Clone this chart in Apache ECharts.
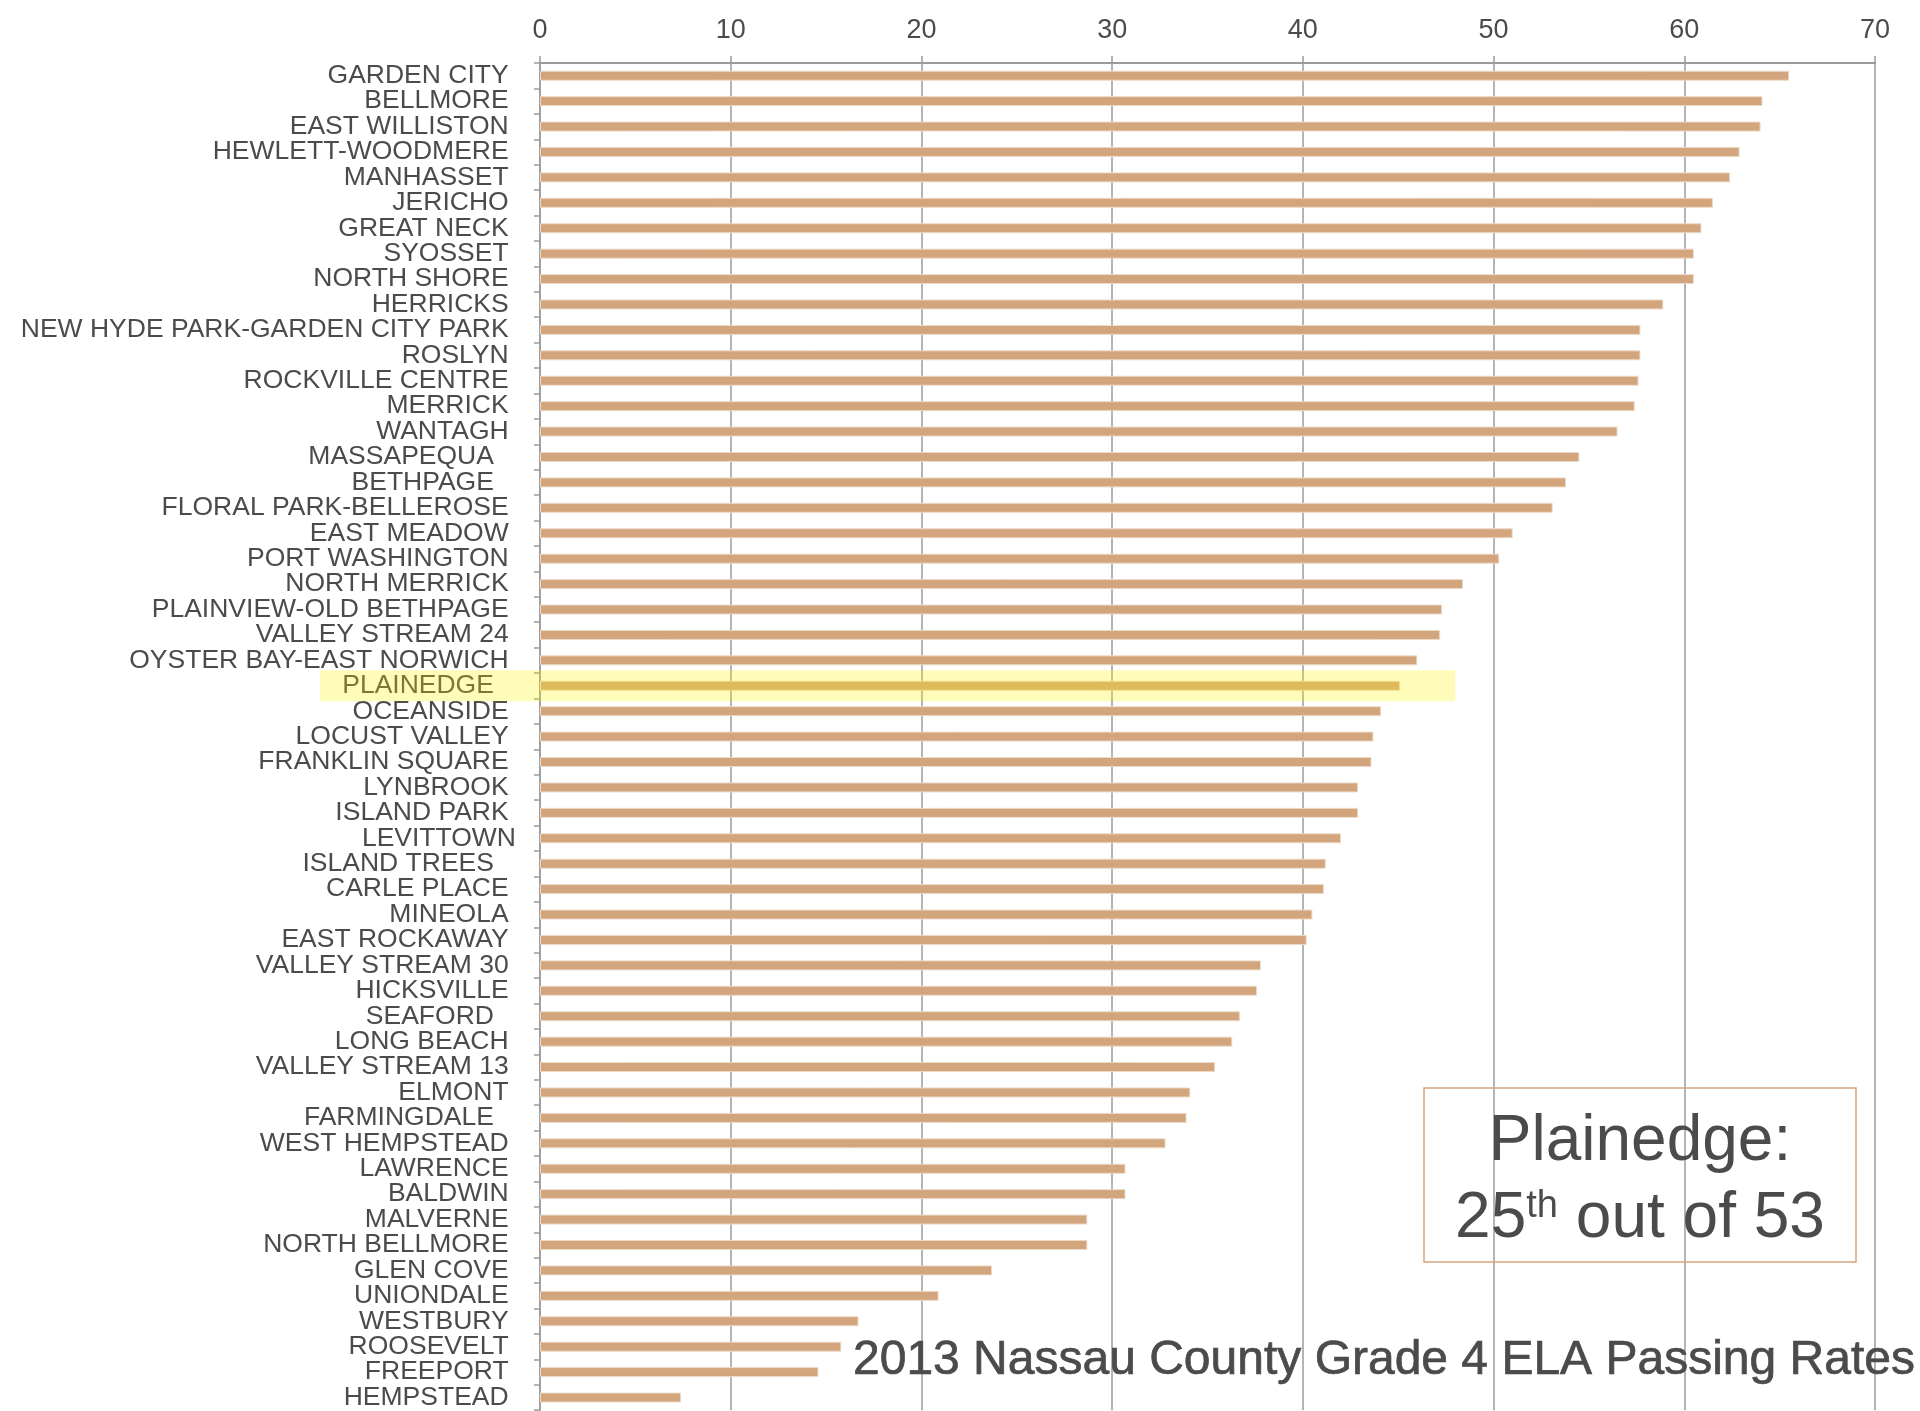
<!DOCTYPE html>
<html>
<head>
<meta charset="utf-8">
<title>2013 Nassau County Grade 4 ELA Passing Rates</title>
<script src="https://cdn.jsdelivr.net/npm/echarts@6/dist/echarts.min.js"></script>
<style>
  html, body { margin: 0; padding: 0; background: #ffffff; }
  #chart { width: 1920px; height: 1411px; }
</style>
</head>
<body>
<div id="chart"></div>
<script>
// School districts, ranked from highest to lowest passing rate
const districts = [
  'GARDEN CITY', 'BELLMORE', 'EAST WILLISTON', 'HEWLETT-WOODMERE', 'MANHASSET',
  'JERICHO', 'GREAT NECK', 'SYOSSET', 'NORTH SHORE', 'HERRICKS',
  'NEW HYDE PARK-GARDEN CITY PARK', 'ROSLYN', 'ROCKVILLE CENTRE', 'MERRICK', 'WANTAGH',
  'MASSAPEQUA', 'BETHPAGE', 'FLORAL PARK-BELLEROSE', 'EAST MEADOW', 'PORT WASHINGTON',
  'NORTH MERRICK', 'PLAINVIEW-OLD BETHPAGE', 'VALLEY STREAM 24', 'OYSTER BAY-EAST NORWICH', 'PLAINEDGE',
  'OCEANSIDE', 'LOCUST VALLEY', 'FRANKLIN SQUARE', 'LYNBROOK', 'ISLAND PARK',
  'LEVITTOWN', 'ISLAND TREES', 'CARLE PLACE', 'MINEOLA', 'EAST ROCKAWAY',
  'VALLEY STREAM 30', 'HICKSVILLE', 'SEAFORD', 'LONG BEACH', 'VALLEY STREAM 13',
  'ELMONT', 'FARMINGDALE', 'WEST HEMPSTEAD', 'LAWRENCE', 'BALDWIN',
  'MALVERNE', 'NORTH BELLMORE', 'GLEN COVE', 'UNIONDALE', 'WESTBURY',
  'ROOSEVELT', 'FREEPORT', 'HEMPSTEAD'
];

// Percent of students passing, same order as districts
const passRates = [
  65.5, 64.1, 64.0, 62.9, 62.4,
  61.5, 60.9, 60.5, 60.5, 58.9,
  57.7, 57.7, 57.6, 57.4, 56.5,
  54.5, 53.8, 53.1, 51.0, 50.3,
  48.4, 47.3, 47.2, 46.0, 45.1,
  44.1, 43.7, 43.6, 42.9, 42.9,
  42.0, 41.2, 41.1, 40.5, 40.2,
  37.8, 37.6, 36.7, 36.3, 35.4,
  34.1, 33.9, 32.8, 30.7, 30.7,
  28.7, 28.7, 23.7, 20.9, 16.7,
  15.8, 14.6, 7.4
];

// Value axis ticks
const rateAxisMin = 0;
const rateAxisMax = 70;
const rateAxisStep = 10;

// District called out in the chart
const featuredDistrict = 'PLAINEDGE';
const featuredName = 'Plainedge';
const highlightReach = 48;

const chartTitle = '2013 Nassau County Grade 4 ELA Passing Rates';

const FONT = '"Liberation Sans", Arial, Helvetica, sans-serif';
const INK = '#4b4b4b';
const TAN = '#d3a57c';
const RULE = '#9b9b9b';

// labels set slightly further from the axis
const indented = new Set(['MASSAPEQUA', 'BETHPAGE', 'PLAINEDGE', 'ISLAND TREES', 'SEAFORD', 'FARMINGDALE']);

function ordinalSuffix(n) {
  const t = n % 100;
  if (t >= 11 && t <= 13) return 'th';
  return ({ 1: 'st', 2: 'nd', 3: 'rd' })[n % 10] || 'th';
}

const chart = echarts.init(document.getElementById('chart'), null, { renderer: 'canvas' });

chart.setOption({
  animation: false,
  backgroundColor: '#ffffff',
  grid: { left: 540, right: 45, top: 63, bottom: 0, containLabel: false },
  xAxis: {
    type: 'value',
    position: 'top',
    min: rateAxisMin,
    max: rateAxisMax,
    interval: rateAxisStep,
    axisLine: { show: true, lineStyle: { color: RULE, width: 2 } },
    axisTick: { show: true, length: 7, lineStyle: { color: RULE, width: 1.5 } },
    splitLine: { show: true, lineStyle: { color: RULE, width: 1.5 } },
    axisLabel: { color: INK, fontFamily: FONT, fontSize: 27, margin: 19 }
  },
  yAxis: {
    type: 'category',
    inverse: true,
    data: districts,
    axisLine: { show: true, lineStyle: { color: RULE, width: 1.5 } },
    axisTick: { show: true, length: 6, lineStyle: { color: RULE, width: 1.5 } },
    axisLabel: {
      interval: 0,
      color: INK,
      fontFamily: FONT,
      fontSize: 26.5,
      margin: 24,
      formatter: function (name) {
        if (indented.has(name)) return name + '   ';
        if (name === 'LEVITTOWN') return name;
        return name + ' ';
      }
    }
  },
  series: [{
    type: 'bar',
    data: passRates,
    barWidth: 10,
    silent: true,
    itemStyle: { color: TAN, borderColor: '#ecdac8', borderWidth: 1 }
  }]
});

// Yellow band over the featured district, from its label across to highlightReach
const featuredIndex = districts.indexOf(featuredDistrict);
const yMid = chart.convertToPixel({ yAxisIndex: 0 }, featuredDistrict);
const yNext = chart.convertToPixel({ yAxisIndex: 0 }, districts[featuredIndex + 1]);
const bandH = Math.abs(yNext - yMid) * 1.22;
const xReach = chart.convertToPixel({ xAxisIndex: 0 }, highlightReach);
const bandLeft = 320;

const rank = featuredIndex + 1;
const total = districts.length;

chart.setOption({
  graphic: [
    {
      type: 'rect',
      z: 100,
      silent: true,
      shape: { x: bandLeft, y: yMid - bandH / 2, width: xReach - bandLeft, height: bandH },
      style: { fill: 'rgba(255, 244, 0, 0.27)' }
    },
    {
      type: 'rect',
      z: 100,
      silent: true,
      shape: { x: 1424, y: 1088, width: 432, height: 174 },
      style: { fill: 'none', stroke: TAN, lineWidth: 1.5 }
    },
    {
      type: 'text',
      z: 101,
      silent: true,
      x: 1640,
      y: 1142,
      style: {
        text: featuredName + ':',
        font: '64px ' + FONT,
        fill: INK,
        textAlign: 'center', align: 'center',
        textVerticalAlign: 'middle', verticalAlign: 'middle'
      }
    },
    {
      type: 'text',
      z: 101,
      silent: true,
      x: 1640,
      y: 1219,
      style: {
        text: '{n|' + rank + '}{s|' + ordinalSuffix(rank) + '}{n| out of ' + total + '}',
        fill: INK,
        font: '64px ' + FONT,
        rich: {
          n: { fontSize: 64, fontFamily: FONT, fill: INK, color: INK },
          s: { fontSize: 38, fontFamily: FONT, fill: INK, color: INK, padding: [0, 0, 24, 0] }
        },
        textAlign: 'center', align: 'center',
        textVerticalAlign: 'middle', verticalAlign: 'middle'
      }
    },
    {
      type: 'text',
      z: 101,
      silent: true,
      x: 853,
      y: 1361,
      style: {
        text: chartTitle,
        font: '48px ' + FONT,
        fill: INK,
        stroke: INK,
        lineWidth: 0.7,
        textAlign: 'left', align: 'left',
        textVerticalAlign: 'middle', verticalAlign: 'middle'
      }
    }
  ]
});
</script>
</body>
</html>
